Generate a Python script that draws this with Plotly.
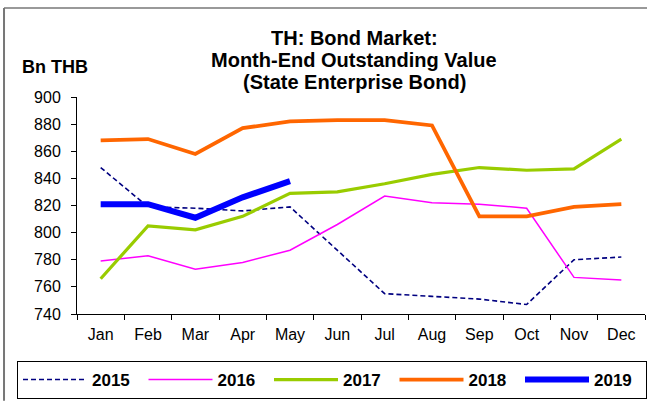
import plotly.graph_objects as go

months = ["Jan", "Feb", "Mar", "Apr", "May", "Jun",
          "Jul", "Aug", "Sep", "Oct", "Nov", "Dec"]

y2015 = [848, 819, 818, 816, 819, 787, 755, 753, 751, 747, 780, 782]
y2016 = [779, 783, 773, 778, 787, 806, 827, 822, 821, 818, 767, 765]
y2017 = [766, 805, 802, 812, 829, 830, 836, 843, 848, 846, 847, 869]
y2018 = [868, 869, 858, 877, 882, 883, 883, 879, 812, 812, 819, 821]
y2019 = [821, 821, 811, 826, 838]

y_ticks = [740, 760, 780, 800, 820, 840, 860, 880, 900]

title_lines = ["TH: Bond Market:", "Month-End Outstanding Value",
               "(State Enterprise Bond)"]

FONT = "Liberation Sans, Arial, sans-serif"

fig = go.Figure()
fig.add_trace(go.Scatter(x=months, y=y2015, name="2015", mode="lines",
                         line=dict(color="#000080", width=1.6, dash="5px,3px")))
fig.add_trace(go.Scatter(x=months, y=y2016, name="2016", mode="lines",
                         line=dict(color="#FF00FF", width=1.5)))
fig.add_trace(go.Scatter(x=months, y=y2017, name="2017", mode="lines",
                         line=dict(color="#99CC00", width=3.2)))
fig.add_trace(go.Scatter(x=months, y=y2018, name="2018", mode="lines",
                         line=dict(color="#FF6600", width=3.8)))
fig.add_trace(go.Scatter(x=months[:len(y2019)], y=y2019, name="2019", mode="lines",
                         line=dict(color="#0000FF", width=6)))

# plot area spans 77..645 px horizontally and 97..314 px vertically
fig.update_layout(
    width=647, height=401,
    margin=dict(l=77, r=2, t=97, b=87),
    paper_bgcolor="white", plot_bgcolor="white",
    font=dict(family=FONT, size=16, color="black"),
    showlegend=True,
    legend=dict(
        orientation="h", x=-0.0986, xanchor="left", y=-0.2166, yanchor="top",
        bordercolor="black", borderwidth=1, bgcolor="white",
        font=dict(family=FONT, size=17, color="black", weight="bold"),
        itemwidth=64, entrywidth=46.5, traceorder="normal",
    ),
)

fig.update_xaxes(
    type="category", range=[-0.5, 11.5], showgrid=False,
    showline=True, linecolor="black", linewidth=1,
    ticks="outside", tickson="boundaries", ticklen=5, tickcolor="black",
    tickfont=dict(size=16), ticklabelstandoff=6,
)
fig.update_yaxes(
    range=[740, 900], tickvals=y_ticks, showgrid=False, zeroline=False,
    showline=True, linecolor="black", linewidth=1,
    ticks="outside", ticklen=5, tickcolor="black",
    tickfont=dict(size=16), ticklabelstandoff=7,
)

# Three-line bold title, one annotation per line for tight spacing
for line_text, y_px in zip(title_lines, [38, 60, 82]):
    fig.add_annotation(
        text=line_text, xref="paper", yref="paper", height=22,
        x=0.488, y=(314 - y_px) / 217, xanchor="center", yanchor="middle",
        showarrow=False, font=dict(family=FONT, size=20, color="black", weight="bold"),
    )

fig.add_annotation(
    text="Bn THB", xref="paper", yref="paper", x=-0.1004, y=(314 - 67) / 217,
    xanchor="left", yanchor="middle", showarrow=False,
    font=dict(family=FONT, size=18, color="black", weight="bold"),
)

# Outer chart frame (left and top edges)
fig.add_shape(type="line", xref="paper", yref="paper",
              x0=-0.1285, x1=-0.1285, y0=-0.40, y1=1.410,
              line=dict(color="#777777", width=2))
fig.add_shape(type="line", xref="paper", yref="paper",
              x0=-0.1285, x1=1.01, y0=1.410, y1=1.410,
              line=dict(color="#777777", width=1.5))

fig.write_html("out.html")
